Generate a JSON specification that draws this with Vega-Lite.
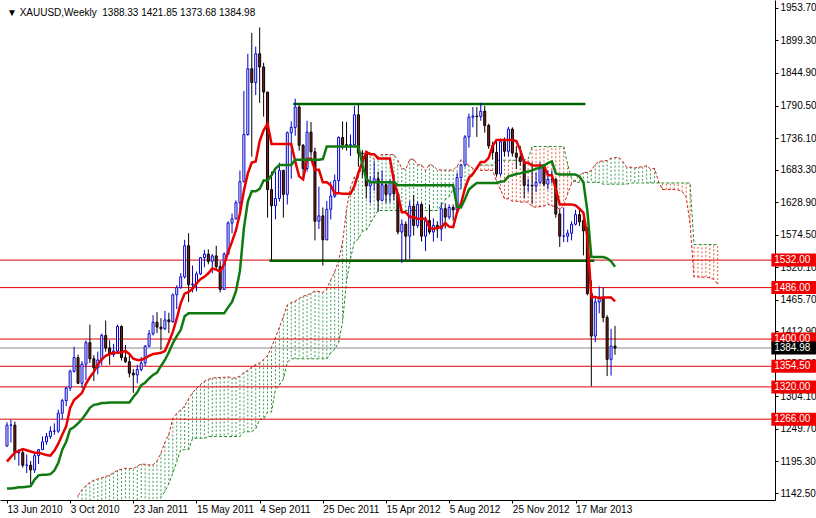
{
"$schema":"https://vega.github.io/schema/vega-lite/v6.json",
"width":775,"height":500,
"autosize":{"type":"none"},
"padding":{"left":0,"top":0,"right":41,"bottom":18},
"background":"white",
"config":{"view":{"stroke":null},"font":"Liberation Sans",
 "axis":{"labelOverlap":false,"labelSeparation":0,"labelFlush":false,"grid":false,"title":null}},
"datasets":{
"candles":[
{"i":0,"o":1221,"h":1261,"l":1220,"c":1256,"t":1195,"k":1150},
{"i":1,"o":1256,"h":1265,"l":1227,"c":1256,"t":1203,"k":1150},
{"i":2,"o":1256,"h":1262,"l":1198,"c":1210,"t":1210,"k":1151},
{"i":3,"o":1210,"h":1216,"l":1188,"c":1210,"t":1213,"k":1152},
{"i":4,"o":1210,"h":1216,"l":1185,"c":1189,"t":1216,"k":1152},
{"i":5,"o":1189,"h":1207,"l":1176,"c":1189,"t":1214,"k":1153},
{"i":6,"o":1189,"h":1196,"l":1157,"c":1181,"t":1212,"k":1154},
{"i":7,"o":1181,"h":1209,"l":1176,"c":1205,"t":1210,"k":1165},
{"i":8,"o":1205,"h":1216,"l":1191,"c":1215,"t":1210,"k":1172},
{"i":9,"o":1215,"h":1237,"l":1215,"c":1228,"t":1208,"k":1173},
{"i":10,"o":1228,"h":1243,"l":1223,"c":1237,"t":1206,"k":1173},
{"i":11,"o":1237,"h":1254,"l":1233,"c":1246,"t":1205,"k":1174},
{"i":12,"o":1246,"h":1259,"l":1240,"c":1246,"t":1213,"k":1180},
{"i":13,"o":1246,"h":1282,"l":1243,"c":1276,"t":1225,"k":1193},
{"i":14,"o":1276,"h":1300,"l":1266,"c":1297,"t":1240,"k":1215},
{"i":15,"o":1297,"h":1320,"l":1288,"c":1318,"t":1254,"k":1228},
{"i":16,"o":1318,"h":1349,"l":1313,"c":1346,"t":1285,"k":1249},
{"i":17,"o":1346,"h":1387,"l":1344,"c":1369,"t":1298,"k":1253},
{"i":18,"o":1369,"h":1374,"l":1325,"c":1326,"t":1304,"k":1259},
{"i":19,"o":1326,"h":1363,"l":1318,"c":1358,"t":1310,"k":1266},
{"i":20,"o":1358,"h":1398,"l":1331,"c":1394,"t":1325,"k":1275},
{"i":21,"o":1394,"h":1424,"l":1360,"c":1367,"t":1336,"k":1285},
{"i":22,"o":1367,"h":1373,"l":1330,"c":1352,"t":1345,"k":1290},
{"i":23,"o":1352,"h":1379,"l":1341,"c":1365,"t":1357,"k":1291},
{"i":24,"o":1365,"h":1409,"l":1356,"c":1406,"t":1366,"k":1293},
{"i":25,"o":1406,"h":1431,"l":1379,"c":1385,"t":1372,"k":1293},
{"i":26,"o":1385,"h":1398,"l":1357,"c":1374,"t":1375,"k":1294},
{"i":27,"o":1374,"h":1392,"l":1370,"c":1380,"t":1377,"k":1294},
{"i":28,"o":1380,"h":1424,"l":1378,"c":1421,"t":1377,"k":1294},
{"i":29,"o":1421,"h":1423,"l":1364,"c":1369,"t":1378,"k":1294},
{"i":30,"o":1369,"h":1390,"l":1360,"c":1362,"t":1380,"k":1294},
{"i":31,"o":1362,"h":1376,"l":1336,"c":1343,"t":1375,"k":1294},
{"i":32,"o":1343,"h":1350,"l":1310,"c":1340,"t":1367,"k":1303},
{"i":33,"o":1340,"h":1357,"l":1326,"c":1349,"t":1365,"k":1311},
{"i":34,"o":1349,"h":1370,"l":1346,"c":1360,"t":1365,"k":1323},
{"i":35,"o":1360,"h":1390,"l":1355,"c":1388,"t":1368,"k":1327},
{"i":36,"o":1388,"h":1415,"l":1386,"c":1409,"t":1372,"k":1334},
{"i":37,"o":1409,"h":1440,"l":1406,"c":1428,"t":1375,"k":1340},
{"i":38,"o":1428,"h":1445,"l":1410,"c":1420,"t":1376,"k":1344},
{"i":39,"o":1420,"h":1435,"l":1382,"c":1417,"t":1377,"k":1355},
{"i":40,"o":1417,"h":1447,"l":1415,"c":1432,"t":1380,"k":1365},
{"i":41,"o":1432,"h":1444,"l":1410,"c":1429,"t":1395,"k":1378},
{"i":42,"o":1429,"h":1476,"l":1427,"c":1474,"t":1412,"k":1393},
{"i":43,"o":1474,"h":1490,"l":1450,"c":1486,"t":1434,"k":1405},
{"i":44,"o":1486,"h":1510,"l":1484,"c":1504,"t":1460,"k":1415},
{"i":45,"o":1504,"h":1566,"l":1501,"c":1556,"t":1476,"k":1438},
{"i":46,"o":1556,"h":1577,"l":1462,"c":1491,"t":1479,"k":1443},
{"i":47,"o":1491,"h":1523,"l":1478,"c":1492,"t":1484,"k":1443},
{"i":48,"o":1492,"h":1513,"l":1480,"c":1509,"t":1493,"k":1443},
{"i":49,"o":1509,"h":1537,"l":1507,"c":1536,"t":1500,"k":1443},
{"i":50,"o":1536,"h":1549,"l":1520,"c":1542,"t":1504,"k":1443},
{"i":51,"o":1542,"h":1550,"l":1525,"c":1530,"t":1510,"k":1443},
{"i":52,"o":1530,"h":1542,"l":1510,"c":1539,"t":1518,"k":1443},
{"i":53,"o":1539,"h":1556,"l":1516,"c":1521,"t":1516,"k":1443},
{"i":54,"o":1521,"h":1530,"l":1478,"c":1483,"t":1513,"k":1443},
{"i":55,"o":1483,"h":1545,"l":1482,"c":1542,"t":1525,"k":1443},
{"i":56,"o":1542,"h":1597,"l":1541,"c":1594,"t":1545,"k":1453},
{"i":57,"o":1594,"h":1610,"l":1577,"c":1601,"t":1563,"k":1462},
{"i":58,"o":1601,"h":1632,"l":1600,"c":1628,"t":1582,"k":1480},
{"i":59,"o":1628,"h":1682,"l":1615,"c":1663,"t":1610,"k":1514},
{"i":60,"o":1663,"h":1815,"l":1662,"c":1742,"t":1648,"k":1585},
{"i":61,"o":1742,"h":1877,"l":1740,"c":1852,"t":1677,"k":1630},
{"i":62,"o":1852,"h":1912,"l":1705,"c":1829,"t":1695,"k":1647},
{"i":63,"o":1829,"h":1889,"l":1808,"c":1877,"t":1697,"k":1647},
{"i":64,"o":1877,"h":1921,"l":1795,"c":1855,"t":1731,"k":1651},
{"i":65,"o":1855,"h":1862,"l":1772,"c":1813,"t":1749,"k":1665},
{"i":66,"o":1813,"h":1813,"l":1603,"c":1650,"t":1760,"k":1665},
{"i":67,"o":1650,"h":1680,"l":1532,"c":1623,"t":1726,"k":1674},
{"i":68,"o":1623,"h":1680,"l":1600,"c":1635,"t":1726,"k":1685},
{"i":69,"o":1635,"h":1695,"l":1630,"c":1682,"t":1726,"k":1691},
{"i":70,"o":1682,"h":1683,"l":1603,"c":1642,"t":1726,"k":1691},
{"i":71,"o":1642,"h":1747,"l":1625,"c":1745,"t":1726,"k":1691},
{"i":72,"o":1745,"h":1764,"l":1668,"c":1754,"t":1726,"k":1691},
{"i":73,"o":1754,"h":1802,"l":1740,"c":1788,"t":1697,"k":1700},
{"i":74,"o":1788,"h":1791,"l":1715,"c":1724,"t":1672,"k":1700},
{"i":75,"o":1724,"h":1726,"l":1670,"c":1685,"t":1667,"k":1700},
{"i":76,"o":1685,"h":1765,"l":1680,"c":1746,"t":1701,"k":1700},
{"i":77,"o":1746,"h":1763,"l":1705,"c":1713,"t":1702,"k":1700},
{"i":78,"o":1713,"h":1720,"l":1565,"c":1597,"t":1683,"k":1700},
{"i":79,"o":1597,"h":1655,"l":1584,"c":1606,"t":1683,"k":1700},
{"i":80,"o":1606,"h":1620,"l":1523,"c":1566,"t":1662,"k":1701},
{"i":81,"o":1566,"h":1631,"l":1565,"c":1617,"t":1662,"k":1722},
{"i":82,"o":1617,"h":1663,"l":1600,"c":1639,"t":1657,"k":1722},
{"i":83,"o":1639,"h":1675,"l":1636,"c":1665,"t":1644,"k":1722},
{"i":84,"o":1665,"h":1739,"l":1643,"c":1737,"t":1644,"k":1722},
{"i":85,"o":1737,"h":1764,"l":1717,"c":1725,"t":1643,"k":1722},
{"i":86,"o":1725,"h":1763,"l":1715,"c":1724,"t":1643,"k":1722},
{"i":87,"o":1724,"h":1742,"l":1706,"c":1725,"t":1643,"k":1722},
{"i":88,"o":1725,"h":1790,"l":1723,"c":1775,"t":1656,"k":1722},
{"i":89,"o":1775,"h":1792,"l":1688,"c":1711,"t":1678,"k":1722},
{"i":90,"o":1711,"h":1716,"l":1670,"c":1710,"t":1696,"k":1692},
{"i":91,"o":1710,"h":1710,"l":1635,"c":1656,"t":1713,"k":1668},
{"i":92,"o":1656,"h":1672,"l":1627,"c":1662,"t":1709,"k":1662},
{"i":93,"o":1662,"h":1697,"l":1648,"c":1668,"t":1709,"k":1662},
{"i":94,"o":1668,"h":1680,"l":1613,"c":1632,"t":1702,"k":1662},
{"i":95,"o":1632,"h":1682,"l":1630,"c":1658,"t":1702,"k":1662},
{"i":96,"o":1658,"h":1660,"l":1627,"c":1642,"t":1702,"k":1662},
{"i":97,"o":1642,"h":1667,"l":1628,"c":1663,"t":1702,"k":1662},
{"i":98,"o":1663,"h":1676,"l":1632,"c":1643,"t":1664,"k":1662},
{"i":99,"o":1643,"h":1645,"l":1575,"c":1579,"t":1642,"k":1657},
{"i":100,"o":1579,"h":1600,"l":1527,"c":1592,"t":1612,"k":1657},
{"i":101,"o":1592,"h":1597,"l":1532,"c":1572,"t":1612,"k":1657},
{"i":102,"o":1572,"h":1631,"l":1533,"c":1622,"t":1604,"k":1657},
{"i":103,"o":1622,"h":1641,"l":1573,"c":1590,"t":1604,"k":1657},
{"i":104,"o":1590,"h":1630,"l":1586,"c":1625,"t":1601,"k":1657},
{"i":105,"o":1625,"h":1628,"l":1563,"c":1572,"t":1601,"k":1657},
{"i":106,"o":1572,"h":1605,"l":1547,"c":1598,"t":1601,"k":1657},
{"i":107,"o":1598,"h":1625,"l":1575,"c":1579,"t":1586,"k":1657},
{"i":108,"o":1579,"h":1602,"l":1563,"c":1590,"t":1584,"k":1657},
{"i":109,"o":1590,"h":1597,"l":1569,"c":1584,"t":1586,"k":1657},
{"i":110,"o":1584,"h":1627,"l":1564,"c":1618,"t":1587,"k":1657},
{"i":111,"o":1618,"h":1627,"l":1585,"c":1604,"t":1594,"k":1657},
{"i":112,"o":1604,"h":1625,"l":1600,"c":1620,"t":1588,"k":1657},
{"i":113,"o":1620,"h":1625,"l":1598,"c":1616,"t":1587,"k":1657},
{"i":114,"o":1616,"h":1678,"l":1612,"c":1670,"t":1612,"k":1621},
{"i":115,"o":1670,"h":1692,"l":1652,"c":1691,"t":1627,"k":1620},
{"i":116,"o":1691,"h":1741,"l":1688,"c":1738,"t":1652,"k":1634},
{"i":117,"o":1738,"h":1777,"l":1720,"c":1771,"t":1670,"k":1650},
{"i":118,"o":1771,"h":1788,"l":1754,"c":1773,"t":1676,"k":1656},
{"i":119,"o":1773,"h":1788,"l":1738,"c":1772,"t":1686,"k":1661},
{"i":120,"o":1772,"h":1795,"l":1765,"c":1781,"t":1696,"k":1661},
{"i":121,"o":1781,"h":1790,"l":1745,"c":1757,"t":1696,"k":1661},
{"i":122,"o":1757,"h":1760,"l":1718,"c":1723,"t":1703,"k":1661},
{"i":123,"o":1723,"h":1730,"l":1700,"c":1712,"t":1723,"k":1661},
{"i":124,"o":1712,"h":1730,"l":1672,"c":1676,"t":1733,"k":1661},
{"i":125,"o":1676,"h":1735,"l":1673,"c":1730,"t":1733,"k":1663},
{"i":126,"o":1730,"h":1737,"l":1705,"c":1714,"t":1733,"k":1664},
{"i":127,"o":1714,"h":1755,"l":1705,"c":1751,"t":1733,"k":1672},
{"i":128,"o":1751,"h":1754,"l":1705,"c":1711,"t":1733,"k":1674},
{"i":129,"o":1711,"h":1723,"l":1684,"c":1704,"t":1731,"k":1676},
{"i":130,"o":1704,"h":1723,"l":1690,"c":1697,"t":1716,"k":1677},
{"i":131,"o":1697,"h":1700,"l":1635,"c":1657,"t":1695,"k":1679},
{"i":132,"o":1657,"h":1668,"l":1646,"c":1657,"t":1695,"k":1680},
{"i":133,"o":1657,"h":1695,"l":1626,"c":1656,"t":1690,"k":1682},
{"i":134,"o":1656,"h":1679,"l":1646,"c":1662,"t":1690,"k":1685},
{"i":135,"o":1662,"h":1696,"l":1659,"c":1687,"t":1690,"k":1686},
{"i":136,"o":1687,"h":1693,"l":1655,"c":1659,"t":1690,"k":1690},
{"i":137,"o":1659,"h":1682,"l":1650,"c":1667,"t":1674,"k":1694},
{"i":138,"o":1667,"h":1682,"l":1660,"c":1667,"t":1674,"k":1697},
{"i":139,"o":1667,"h":1669,"l":1603,"c":1609,"t":1651,"k":1677},
{"i":140,"o":1609,"h":1617,"l":1554,"c":1572,"t":1625,"k":1675},
{"i":141,"o":1572,"h":1620,"l":1562,"c":1572,"t":1625,"k":1675},
{"i":142,"o":1572,"h":1583,"l":1562,"c":1577,"t":1625,"k":1675},
{"i":143,"o":1577,"h":1597,"l":1565,"c":1592,"t":1625,"k":1675},
{"i":144,"o":1592,"h":1616,"l":1590,"c":1608,"t":1623.5,"k":1675},
{"i":145,"o":1608,"h":1618,"l":1589,"c":1596,"t":1618,"k":1672},
{"i":146,"o":1598,"h":1605,"l":1540,"c":1581,"t":1611,"k":1662},
{"i":147,"o":1581,"h":1587,"l":1473,"c":1476,"t":1571,"k":1614},
{"i":148,"o":1476,"h":1498,"l":1321,"c":1405,"t":1470.5,"k":1537},
{"i":149,"o":1405,"h":1470,"l":1395,"c":1462,"t":1470.5,"k":1537},
{"i":150,"o":1462,"h":1488,"l":1443,"c":1470,"t":1468.5,"k":1537},
{"i":151,"o":1470,"h":1486,"l":1428,"c":1436,"t":1469.5,"k":1537},
{"i":152,"o":1436,"h":1440,"l":1338,"c":1366,"t":1469.5,"k":1535},
{"i":153,"o":1366,"h":1417,"l":1339,"c":1388,"t":1469.5,"k":1530},
{"i":154,"o":1388.33,"h":1421.85,"l":1373.68,"c":1384.98,"t":1463,"k":1521}
],
"cloud":[
{"i":18,"a":1138,"b":1080},{"i":19,"a":1148,"b":1080},{"i":20,"a":1155,"b":1080},{"i":21,"a":1160,"b":1080},
{"i":22,"a":1164,"b":1080},{"i":23,"a":1166,"b":1080},{"i":24,"a":1168,"b":1080},{"i":25,"a":1170,"b":1080},
{"i":26,"a":1172.5,"b":1083},{"i":27,"a":1176.5,"b":1087},{"i":28,"a":1180.5,"b":1087},{"i":29,"a":1182.5,"b":1087},
{"i":30,"a":1184,"b":1100},{"i":31,"a":1183.5,"b":1100},{"i":32,"a":1183,"b":1100},{"i":33,"a":1187.5,"b":1100},
{"i":34,"a":1191,"b":1100},{"i":35,"a":1190.5,"b":1100},{"i":36,"a":1189.5,"b":1100},{"i":37,"a":1189.5,"b":1100},
{"i":38,"a":1196.5,"b":1100},{"i":39,"a":1209,"b":1136},{"i":40,"a":1227.5,"b":1145},{"i":41,"a":1241,"b":1158},
{"i":42,"a":1267,"b":1176},{"i":43,"a":1275.5,"b":1195},{"i":44,"a":1281.5,"b":1215},{"i":45,"a":1288,"b":1215},
{"i":46,"a":1300,"b":1215},{"i":47,"a":1310.5,"b":1234},{"i":48,"a":1317.5,"b":1234},{"i":49,"a":1324,"b":1234},
{"i":50,"a":1329.5,"b":1234},{"i":51,"a":1332.5,"b":1237},{"i":52,"a":1334.5,"b":1237},{"i":53,"a":1335.5,"b":1237},
{"i":54,"a":1335.5,"b":1237},{"i":55,"a":1336,"b":1237},{"i":56,"a":1337,"b":1237},{"i":57,"a":1334.5,"b":1237},
{"i":58,"a":1335,"b":1237},{"i":59,"a":1338,"b":1237},{"i":60,"a":1344,"b":1245},{"i":61,"a":1347.5,"b":1245},
{"i":62,"a":1353,"b":1245},{"i":63,"a":1357.5,"b":1250},{"i":64,"a":1360,"b":1266},{"i":65,"a":1366,"b":1266},
{"i":66,"a":1372.5,"b":1278},{"i":67,"a":1386.5,"b":1278},{"i":68,"a":1402.5,"b":1316},{"i":69,"a":1419.5,"b":1323},
{"i":70,"a":1437.5,"b":1333},{"i":71,"a":1457,"b":1361},{"i":72,"a":1461,"b":1367},{"i":73,"a":1463.5,"b":1367},
{"i":74,"a":1468,"b":1367},{"i":75,"a":1471.5,"b":1367},{"i":76,"a":1473.5,"b":1367},{"i":77,"a":1476.5,"b":1367},
{"i":78,"a":1480.5,"b":1367},{"i":79,"a":1479.5,"b":1367},{"i":80,"a":1478,"b":1367},{"i":81,"a":1484,"b":1367},
{"i":82,"a":1499,"b":1377},{"i":83,"a":1512.5,"b":1383},{"i":84,"a":1531,"b":1394},{"i":85,"a":1562,"b":1429},
{"i":86,"a":1616.5,"b":1497},{"i":87,"a":1653.5,"b":1534},{"i":88,"a":1671,"b":1563},{"i":89,"a":1672,"b":1567},
{"i":90,"a":1691,"b":1580},{"i":91,"a":1707,"b":1582},{"i":92,"a":1712.5,"b":1593},{"i":93,"a":1700,"b":1604},
{"i":94,"a":1705.5,"b":1615},{"i":95,"a":1708.5,"b":1615},{"i":96,"a":1708.5,"b":1615},{"i":97,"a":1708.5,"b":1615},
{"i":98,"a":1708.5,"b":1615},{"i":99,"a":1698.5,"b":1615},{"i":100,"a":1686,"b":1615},{"i":101,"a":1683.5,"b":1615},
{"i":102,"a":1700.5,"b":1615},{"i":103,"a":1701,"b":1615},{"i":104,"a":1691.5,"b":1615},{"i":105,"a":1691.5,"b":1615},
{"i":106,"a":1681.5,"b":1615},{"i":107,"a":1692,"b":1615},{"i":108,"a":1689.5,"b":1615},{"i":109,"a":1683,"b":1615},
{"i":110,"a":1683,"b":1624},{"i":111,"a":1682.5,"b":1633},{"i":112,"a":1682.5,"b":1638},{"i":113,"a":1682.5,"b":1651},
{"i":114,"a":1689,"b":1651},{"i":115,"a":1700,"b":1651},{"i":116,"a":1694,"b":1651},{"i":117,"a":1690.5,"b":1665},
{"i":118,"a":1685.5,"b":1674},{"i":119,"a":1685.5,"b":1685},{"i":120,"a":1682,"b":1691},{"i":121,"a":1682,"b":1691},
{"i":122,"a":1682,"b":1691},{"i":123,"a":1682,"b":1691},{"i":124,"a":1663,"b":1699},{"i":125,"a":1649.5,"b":1699},
{"i":126,"a":1634.5,"b":1699},{"i":127,"a":1634.5,"b":1699},{"i":128,"a":1630.5,"b":1699},{"i":129,"a":1630.5,"b":1699},
{"i":130,"a":1629,"b":1699},{"i":131,"a":1629,"b":1699},{"i":132,"a":1629,"b":1701},{"i":133,"a":1621.5,"b":1722},
{"i":134,"a":1620.5,"b":1722},{"i":135,"a":1621.5,"b":1722},{"i":136,"a":1622,"b":1722},{"i":137,"a":1625.5,"b":1722},
{"i":138,"a":1622.5,"b":1722},{"i":139,"a":1622,"b":1722},{"i":140,"a":1616.5,"b":1722},{"i":141,"a":1623.5,"b":1722},
{"i":142,"a":1643,"b":1692},{"i":143,"a":1660,"b":1668},{"i":144,"a":1666,"b":1662},{"i":145,"a":1673.5,"b":1662},
{"i":146,"a":1678.5,"b":1662},{"i":147,"a":1678.5,"b":1662},{"i":148,"a":1682,"b":1662},{"i":149,"a":1692,"b":1662},
{"i":150,"a":1697,"b":1662},{"i":151,"a":1698,"b":1659},{"i":152,"a":1698.5,"b":1659},{"i":153,"a":1702.5,"b":1659},
{"i":154,"a":1703.5,"b":1659},{"i":155,"a":1703.5,"b":1659},{"i":156,"a":1696.5,"b":1659},{"i":157,"a":1687,"b":1659},
{"i":158,"a":1687.5,"b":1661},{"i":159,"a":1686,"b":1661},{"i":160,"a":1687.5,"b":1661},{"i":161,"a":1688,"b":1661},
{"i":162,"a":1690,"b":1661},{"i":163,"a":1684,"b":1661},{"i":164,"a":1685.5,"b":1661},{"i":165,"a":1664,"b":1661},
{"i":166,"a":1650,"b":1661},{"i":167,"a":1650,"b":1661},{"i":168,"a":1650,"b":1661},{"i":169,"a":1650,"b":1661},
{"i":170,"a":1649,"b":1661},{"i":171,"a":1646.5,"b":1661},{"i":172,"a":1638,"b":1661},{"i":173,"a":1593.5,"b":1661},
{"i":174,"a":1504,"b":1558},{"i":175,"a":1504,"b":1558},{"i":176,"a":1503,"b":1558},{"i":177,"a":1504,"b":1558},
{"i":178,"a":1502,"b":1558},{"i":179,"a":1500,"b":1558},{"i":180,"a":1492,"b":1558}
],
"levels":[
{"p":1532,"kind":"level"},{"p":1486,"kind":"level"},{"p":1400,"kind":"level"},
{"p":1354.5,"kind":"level"},{"p":1320,"kind":"level"},{"p":1266,"kind":"level"},
{"p":1384.98,"kind":"bid"}
],
"box":[
{"p":1793,"s":72.5,"e":146.5},
{"p":1531,"s":66.5,"e":148.75}
]
},
"layer":[
{"data":{"name":"cloud"},
 "mark":{"type":"rule","strokeWidth":1,"strokeDash":[2,2],"clip":true},
 "encoding":{
  "x":{"field":"i","type":"quantitative","title":null,"scale":{"domain":[-0.5,193.25],"nice":false,"zero":false},
   "axis":{"orient":"bottom","title":null,"grid":false,"values":[0,16,32,48,64,80,96,112,128,144],"tickCount":40,
    "labelExpr":"['13 Jun 2010','3 Oct 2010','23 Jan 2011','15 May 2011','4 Sep 2011','25 Dec 2011','15 Apr 2012','5 Aug 2012','25 Nov 2012','17 Mar 2013'][round(datum.value/16)]",
    "labelAlign":"left","labelDx":-4,"labelFlush":false,"labelOverlap":false,"labelPadding":1,"labelFontSize":10,"labelColor":"black","tickSize":3,"tickColor":"black","domainColor":"black","labelFont":"Liberation Sans"}},
  "y":{"field":"a","type":"quantitative","title":null,"scale":{"domain":[1139.2,1958.6],"nice":false,"zero":false},
   "axis":{"orient":"right","title":null,"grid":false,"values":[1953.7,1899.3,1844.9,1790.5,1736.1,1683.3,1628.9,1574.5,1520.1,1465.7,1412.9,1358.5,1304.1,1249.7,1195.3,1142.5],"tickCount":40,
    "format":".2f","labelFlush":false,"labelOverlap":false,"labelSeparation":0,"labelPadding":2,"labelFontSize":10,"labelColor":"black","tickSize":3,"tickColor":"black","domainColor":"black","labelFont":"Liberation Sans","labelBaseline":"middle"}},
  "y2":{"field":"b"},
  "color":{"condition":{"test":"datum.a >= datum.b","value":"#3f9a5a"},"value":"#e0603a"}
 }},
{"data":{"name":"cloud"},
 "mark":{"type":"line","strokeWidth":1,"strokeDash":[3,2],"clip":true,"color":"#d42020"},
 "encoding":{"x":{"field":"i","type":"quantitative","title":null},"y":{"field":"a","type":"quantitative","title":null}}},
{"data":{"name":"cloud"},
 "mark":{"type":"line","strokeWidth":1,"strokeDash":[3,2],"clip":true,"color":"#1f8a1f"},
 "encoding":{"x":{"field":"i","type":"quantitative","title":null},"y":{"field":"b","type":"quantitative","title":null}}},
{"data":{"name":"levels"},
 "mark":{"type":"rule","strokeWidth":1},
 "encoding":{"y":{"field":"p","type":"quantitative","title":null},
  "color":{"condition":{"test":"datum.kind == 'bid'","value":"#8a8a8a"},"value":"#e00000"}}},
{"data":{"name":"box"},
 "mark":{"type":"rule","strokeWidth":2.5,"color":"#006400"},
 "encoding":{"x":{"field":"s","type":"quantitative","title":null},"x2":{"field":"e"},"y":{"field":"p","type":"quantitative","title":null}}},
{"data":{"name":"candles"},
 "mark":{"type":"rule","strokeWidth":1},
 "encoding":{"x":{"field":"i","type":"quantitative","title":null},"y":{"field":"l","type":"quantitative","title":null},"y2":{"field":"h"},
  "color":{"condition":{"test":"datum.c >= datum.o","value":"#0000cd"},"value":"#000000"}}},
{"data":{"name":"candles"},
 "mark":{"type":"bar","size":2,"strokeWidth":1},
 "encoding":{"x":{"field":"i","type":"quantitative","title":null},"y":{"field":"o","type":"quantitative","title":null},"y2":{"field":"c"},
  "fill":{"condition":{"test":"datum.c >= datum.o","value":"#ffffff"},"value":"#8b1a1a"},
  "stroke":{"condition":{"test":"datum.c >= datum.o","value":"#0000cd"},"value":"#000000"}}},
{"data":{"name":"candles"},
 "mark":{"type":"line","strokeWidth":2.5,"color":"#e80000"},
 "encoding":{"x":{"field":"i","type":"quantitative","title":null},"y":{"field":"t","type":"quantitative","title":null}}},
{"data":{"name":"candles"},
 "mark":{"type":"line","strokeWidth":2.5,"color":"#0f7a0f"},
 "encoding":{"x":{"field":"i","type":"quantitative","title":null},"y":{"field":"k","type":"quantitative","title":null}}},
{"data":{"name":"levels"},
 "mark":{"type":"bar","size":13},
 "encoding":{"x":{"datum":193.6,"type":"quantitative","title":null},"x2":{"datum":205},"y":{"field":"p","type":"quantitative","title":null},
  "color":{"condition":{"test":"datum.kind == 'bid'","value":"#000000"},"value":"#f00000"}}},
{"data":{"name":"levels"},
 "mark":{"type":"text","align":"left","baseline":"middle","color":"white","fontSize":10,"font":"Liberation Sans"},
 "encoding":{"x":{"datum":194.3,"type":"quantitative","title":null},"y":{"field":"p","type":"quantitative","title":null},
  "text":{"field":"p","format":".2f"}}},
{"data":{"values":[{"s":"▼ XAUUSD,Weekly\u00a0\u00a01388.33 1421.85 1373.68 1384.98"}]},
 "mark":{"type":"text","align":"left","baseline":"middle","color":"black","fontSize":10,"font":"Liberation Sans"},
 "encoding":{"x":{"datum":0,"type":"quantitative","title":null},"y":{"datum":1945,"type":"quantitative","title":null},"text":{"field":"s"}}}
]
}
